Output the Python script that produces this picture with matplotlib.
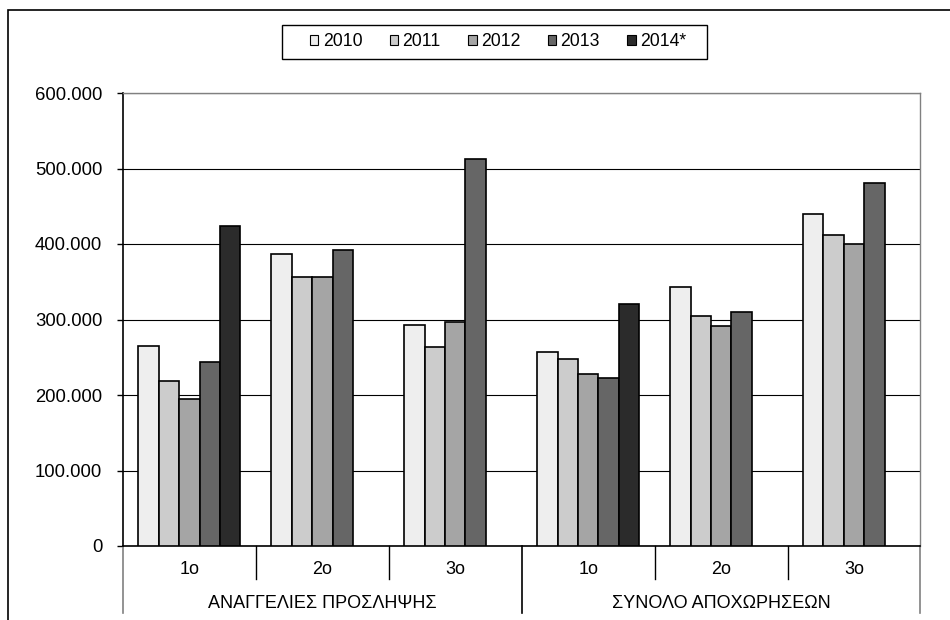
import matplotlib
matplotlib.use("Agg")
import matplotlib.pyplot as plt
import matplotlib.patches as mpatches
import matplotlib.transforms as mtransforms
from matplotlib.ticker import FuncFormatter
import numpy as np

plt.rcParams["font.family"] = ["Liberation Sans", "DejaVu Sans"]
plt.rcParams["font.size"] = 13

groups = ["ΑΝΑΓΓΕΛΙΕΣ ΠΡΟΣΛΗΨΗΣ", "ΣΥΝΟΛΟ ΑΠΟΧΩΡΗΣΕΩΝ"]
quarters = ["1o", "2o", "3o", "1o", "2o", "3o"]
years = ["2010", "2011", "2012", "2013", "2014*"]
colors = ["#EEEEEE", "#CCCCCC", "#A5A5A5", "#666666", "#2B2B2B"]

v2010 = [265000, 387000, 293000, 257500, 343500, 440000]
v2011 = [219000, 356000, 263000, 248000, 304500, 411500]
v2012 = [195000, 356000, 297000, 228000, 292000, 400500]
v2013 = [244000, 392500, 512000, 223000, 310000, 481000]
v2014 = [423500, None, None, 321000, None, None]
series = [v2010, v2011, v2012, v2013, v2014]

W, H = 950, 620
fig = plt.figure(figsize=(9.5, 6.2), dpi=100)
ax = fig.add_axes([123 / W, (H - 546) / H, (920.5 - 123) / W, (546 - 93) / H])

x = np.arange(len(quarters))
bw = 0.1535
for i, (vals, c, lab) in enumerate(zip(series, colors, years)):
    xs = [xi + (i - 2) * bw for xi, v in zip(x, vals) if v is not None]
    ys = [v for v in vals if v is not None]
    ax.bar(xs, ys, width=bw, color=c, edgecolor="black", linewidth=1.2, zorder=3, label=lab)

ax.set_xlim(-0.5, len(quarters) - 0.5)
ax.set_ylim(0, 600000)
ax.set_yticks(range(0, 600001, 100000))
ax.yaxis.set_major_formatter(FuncFormatter(lambda v, p: f"{int(v):,}".replace(",", ".")))
ax.yaxis.grid(True, color="black", linewidth=0.8, zorder=0)
ax.tick_params(axis="y", direction="out", length=4, width=1, pad=11, labelsize=13.3)
ax.set_xticks([])
for s in ["top", "right"]:
    ax.spines[s].set_color("#808080")
    ax.spines[s].set_linewidth(1.0)
ax.spines["left"].set_linewidth(1.2)
ax.spines["bottom"].set_linewidth(1.2)

# two-level category axis
ah = 546 - 93
trans = mtransforms.blended_transform_factory(ax.transData, ax.transAxes)
for b in [0.5, 1.5, 3.5, 4.5]:
    ax.plot([b, b], [0, -(579 - 546) / ah], color="black", lw=1, transform=trans, clip_on=False)
for b in [-0.5, 2.5, 5.5]:
    col = "black" if b == 2.5 else "#808080"
    ax.plot([b, b], [0, -(613 - 546) / ah], color=col, lw=1.2, transform=trans, clip_on=False)
for xi, q in zip(x, quarters):
    ax.text(xi, -(570 - 546) / ah, q, transform=trans, ha="center", va="center", fontsize=13)
for gi, g in enumerate(groups):
    ax.text(1 + 3 * gi, -(604 - 546) / ah, g, transform=trans, ha="center", va="center", fontsize=13)

# legend
handles = [mpatches.Patch(facecolor=c, edgecolor="black", linewidth=0.8, label=l) for c, l in zip(colors, years)]
fig.legend(handles=handles, loc="center", bbox_to_anchor=(498 / W, 1 - 42 / H), ncol=5, frameon=False,
           handlelength=0.48, handleheight=0.48, handletextpad=0.25, columnspacing=1.55, fontsize=12.7)
fig.patches.append(mpatches.Rectangle((282 / W, 1 - 59 / H), (707 - 282) / W, 34 / H, transform=fig.transFigure,
                                      fill=False, edgecolor="black", linewidth=1))

# outer chart border
fig.patches.append(mpatches.Rectangle((8 / W, -0.1), 1.1, 1.1 - 10 / H, transform=fig.transFigure,
                                      fill=False, edgecolor="black", linewidth=1.2))

fig.savefig("out.png", dpi=100)
